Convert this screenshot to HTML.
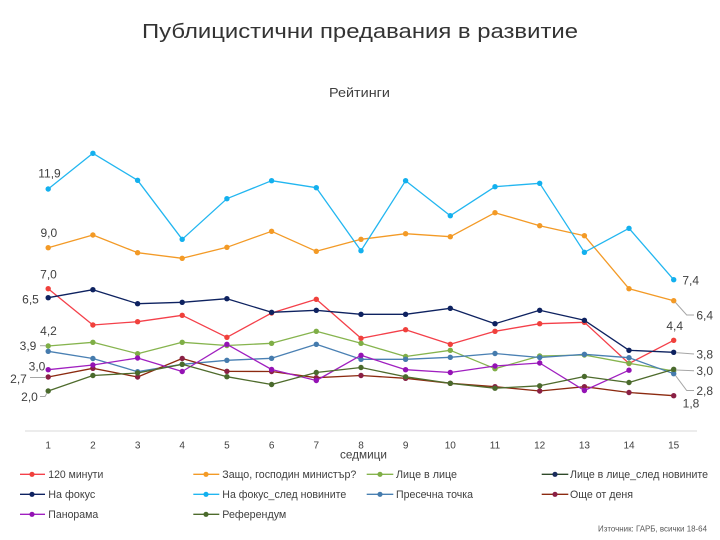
<!DOCTYPE html>
<html><head><meta charset="utf-8"><style>
html,body{margin:0;padding:0;background:#fff;}
svg{display:block;}
text{font-family:"Liberation Sans",Arial,sans-serif;}
</style></head><body>
<svg width="720" height="540" viewBox="0 0 720 540" xmlns="http://www.w3.org/2000/svg">
<defs>
<marker id="mR" markerWidth="8" markerHeight="8" refX="4" refY="4" markerUnits="userSpaceOnUse"><circle cx="4" cy="4" r="2.7" fill="#f0413c"/></marker>
<marker id="mO" markerWidth="8" markerHeight="8" refX="4" refY="4" markerUnits="userSpaceOnUse"><circle cx="4" cy="4" r="2.7" fill="#f39a26"/></marker>
<marker id="mLG" markerWidth="8" markerHeight="8" refX="4" refY="4" markerUnits="userSpaceOnUse"><circle cx="4" cy="4" r="2.7" fill="#7fae46"/></marker>
<marker id="mN" markerWidth="8" markerHeight="8" refX="4" refY="4" markerUnits="userSpaceOnUse"><circle cx="4" cy="4" r="2.7" fill="#0e2260"/></marker>
<marker id="mC" markerWidth="8" markerHeight="8" refX="4" refY="4" markerUnits="userSpaceOnUse"><circle cx="4" cy="4" r="2.7" fill="#13b0ee"/></marker>
<marker id="mS" markerWidth="8" markerHeight="8" refX="4" refY="4" markerUnits="userSpaceOnUse"><circle cx="4" cy="4" r="2.7" fill="#457bad"/></marker>
<marker id="mB" markerWidth="8" markerHeight="8" refX="4" refY="4" markerUnits="userSpaceOnUse"><circle cx="4" cy="4" r="2.7" fill="#8a2045"/></marker>
<marker id="mP" markerWidth="8" markerHeight="8" refX="4" refY="4" markerUnits="userSpaceOnUse"><circle cx="4" cy="4" r="2.7" fill="#9412b4"/></marker>
<marker id="mDG" markerWidth="8" markerHeight="8" refX="4" refY="4" markerUnits="userSpaceOnUse"><circle cx="4" cy="4" r="2.7" fill="#4a6a2c"/></marker>
</defs>

<!-- Title -->
<text x="360" y="38" font-size="20" fill="#333" text-anchor="middle" textLength="436" lengthAdjust="spacingAndGlyphs">Публицистични предавания в развитие</text>
<text x="359.5" y="97" font-size="13" fill="#404040" text-anchor="middle" textLength="61" lengthAdjust="spacingAndGlyphs">Рейтинги</text>

<!-- axis -->
<line x1="25" y1="431" x2="697" y2="431" stroke="#d9d9d9" stroke-width="1"/>
<g font-size="10" fill="#404040" text-anchor="middle">
<text x="48.2" y="448.6">1</text>
<text x="92.9" y="448.6">2</text>
<text x="137.6" y="448.6">3</text>
<text x="182.2" y="448.6">4</text>
<text x="226.9" y="448.6">5</text>
<text x="271.6" y="448.6">6</text>
<text x="316.3" y="448.6">7</text>
<text x="361.0" y="448.6">8</text>
<text x="405.6" y="448.6">9</text>
<text x="450.3" y="448.6">10</text>
<text x="495.0" y="448.6">11</text>
<text x="539.7" y="448.6">12</text>
<text x="584.4" y="448.6">13</text>
<text x="629.0" y="448.6">14</text>
<text x="673.7" y="448.6">15</text>
</g>
<text x="363.5" y="458.5" font-size="12" fill="#404040" text-anchor="middle" textLength="47" lengthAdjust="spacingAndGlyphs">седмици</text>

<!-- series -->
<g fill="none" stroke-width="1.3" stroke-linejoin="round">
<polyline stroke="#f4404a" marker-start="url(#mR)" marker-mid="url(#mR)" marker-end="url(#mR)" points="48.2,288.7 92.9,325 137.6,321.7 182.2,315.3 226.9,337.3 271.6,313 316.3,299.3 361.0,338.3 405.6,329.7 450.3,344.3 495.0,331.3 539.7,323.7 584.4,322.3 629.0,363.5 673.7,340.3"/>
<polyline stroke="#f39a26" marker-start="url(#mO)" marker-mid="url(#mO)" marker-end="url(#mO)" points="48.2,247.7 92.9,235 137.6,252.7 182.2,258.3 226.9,247.3 271.6,231.3 316.3,251.3 361.0,239.3 405.6,233.7 450.3,236.7 495.0,212.7 539.7,225.7 584.4,235.7 629.0,288.7 673.7,300.7"/>
<polyline stroke="#86b44e" marker-start="url(#mLG)" marker-mid="url(#mLG)" marker-end="url(#mLG)" points="48.2,346 92.9,342.3 137.6,353.7 182.2,342.3 226.9,345.5 271.6,343.3 316.3,331.3 361.0,343.3 405.6,356.5 450.3,350.3 495.0,368.7 539.7,356 584.4,355 629.0,363.3 673.7,371"/>
<polyline stroke="#0e2260" marker-start="url(#mN)" marker-mid="url(#mN)" marker-end="url(#mN)" points="48.2,297.7 92.9,289.7 137.6,303.7 182.2,302.3 226.9,298.7 271.6,312.3 316.3,310.3 361.0,314.3 405.6,314.3 450.3,308.3 495.0,323.7 539.7,310.3 584.4,320.3 629.0,350.3 673.7,352.3"/>
<polyline stroke="#22b6f0" marker-start="url(#mC)" marker-mid="url(#mC)" marker-end="url(#mC)" points="48.2,189 92.9,153.3 137.6,180.3 182.2,239.3 226.9,198.7 271.6,180.7 316.3,187.7 361.0,250.7 405.6,180.7 450.3,215.7 495.0,186.7 539.7,183.3 584.4,252.3 629.0,228.3 673.7,279.7"/>
<polyline stroke="#4a80b3" marker-start="url(#mS)" marker-mid="url(#mS)" marker-end="url(#mS)" points="48.2,351.3 92.9,358.5 137.6,371.7 182.2,364.3 226.9,360.3 271.6,358.3 316.3,344.3 361.0,359.3 405.6,359.3 450.3,357.3 495.0,353.5 539.7,357.5 584.4,354.3 629.0,357.7 673.7,373.7"/>
<polyline stroke="#8c2a10" marker-start="url(#mB)" marker-mid="url(#mB)" marker-end="url(#mB)" points="48.2,377 92.9,368.3 137.6,377 182.2,358.5 226.9,371.3 271.6,371.5 316.3,377.7 361.0,375.5 405.6,378.3 450.3,383.3 495.0,386.7 539.7,391 584.4,386.7 629.0,392.5 673.7,395.7"/>
<polyline stroke="#a020c0" marker-start="url(#mP)" marker-mid="url(#mP)" marker-end="url(#mP)" points="48.2,369.7 92.9,365 137.6,358 182.2,371.5 226.9,344.3 271.6,369.5 316.3,380.5 361.0,355.3 405.6,369.7 450.3,372.5 495.0,366 539.7,363 584.4,390.5 629.0,370.2"/>
<polyline stroke="#4e6b2c" marker-start="url(#mDG)" marker-mid="url(#mDG)" marker-end="url(#mDG)" points="48.2,391 92.9,375.5 137.6,373 182.2,364.3 226.9,376.7 271.6,384.5 316.3,372.5 361.0,367.5 405.6,376.8 450.3,383.3 495.0,388.2 539.7,385.8 584.4,376.5 629.0,382.5 673.7,369.3"/>
</g>

<!-- leader lines -->
<g fill="none" stroke="#a6a6a6" stroke-width="1">
<polyline points="40,345.7 46,345.7"/>
<polyline points="30,377.5 46,377.5"/>
<polyline points="40,396.5 45,396.5 47,393"/>
<polyline points="675.5,302.5 686.7,315 694,315"/>
<polyline points="676,352.6 694,354"/>
<polyline points="676,370 694,370.7"/>
<polyline points="675.5,375.5 686.7,390.5 694,390.5"/>
</g>

<!-- data labels -->
<g font-size="12" fill="#404040" text-anchor="middle">
<text x="49.5" y="177.6">11,9</text>
<text x="48.8" y="237">9,0</text>
<text x="48.5" y="278.3">7,0</text>
<text x="30.5" y="303.3">6,5</text>
<text x="48.5" y="335">4,2</text>
<text x="28" y="350">3,9</text>
<text x="37" y="370.3">3,0</text>
<text x="18.5" y="382.8">2,7</text>
<text x="29.5" y="401">2,0</text>
<text x="690.7" y="284.3">7,4</text>
<text x="704.7" y="319.3">6,4</text>
<text x="674.7" y="330">4,4</text>
<text x="704.7" y="358.3">3,8</text>
<text x="704.7" y="375">3,0</text>
<text x="704.7" y="395">2,8</text>
<text x="691" y="407.6">1,8</text>
</g>

<!-- legend -->
<g stroke-width="1.3">
<line x1="20" y1="474.3" x2="45" y2="474.3" stroke="#f4404a"/><circle cx="32" cy="474.3" r="2.6" fill="#f0413c"/>
<line x1="193.3" y1="474.3" x2="219.3" y2="474.3" stroke="#f39a26"/><circle cx="206" cy="474.3" r="2.6" fill="#f39a26"/>
<line x1="366.7" y1="474.3" x2="393.3" y2="474.3" stroke="#86b44e"/><circle cx="380" cy="474.3" r="2.6" fill="#7fae46"/>
<line x1="541.7" y1="474.3" x2="568.3" y2="474.3" stroke="#2f4a2a"/><circle cx="555" cy="474.3" r="2.6" fill="#1a2c5c"/>
<line x1="20" y1="494.3" x2="45" y2="494.3" stroke="#0e2260"/><circle cx="32" cy="494.3" r="2.6" fill="#0e2260"/>
<line x1="193.3" y1="494.3" x2="219.3" y2="494.3" stroke="#22b6f0"/><circle cx="206" cy="494.3" r="2.6" fill="#13b0ee"/>
<line x1="366.7" y1="494.3" x2="393.3" y2="494.3" stroke="#4a80b3"/><circle cx="380" cy="494.3" r="2.6" fill="#457bad"/>
<line x1="541.7" y1="494.3" x2="568.3" y2="494.3" stroke="#8c2a10"/><circle cx="555" cy="494.3" r="2.6" fill="#8a2045"/>
<line x1="20" y1="514.3" x2="45" y2="514.3" stroke="#a020c0"/><circle cx="32" cy="514.3" r="2.6" fill="#9412b4"/>
<line x1="193.3" y1="514.3" x2="219.3" y2="514.3" stroke="#4e6b2c"/><circle cx="206" cy="514.3" r="2.6" fill="#4a6a2c"/>
</g>
<g font-size="11" fill="#404040">
<text x="48.3" y="478.2" textLength="55" lengthAdjust="spacingAndGlyphs">120 минути</text>
<text x="222.3" y="478.2" textLength="134" lengthAdjust="spacingAndGlyphs">Защо, господин министър?</text>
<text x="396" y="478.2" textLength="61" lengthAdjust="spacingAndGlyphs">Лице в лице</text>
<text x="570" y="478.2" textLength="138" lengthAdjust="spacingAndGlyphs">Лице в лице_след новините</text>
<text x="48.3" y="498.2" textLength="47" lengthAdjust="spacingAndGlyphs">На фокус</text>
<text x="222.3" y="498.2" textLength="124" lengthAdjust="spacingAndGlyphs">На фокус_след новините</text>
<text x="396" y="498.2" textLength="77" lengthAdjust="spacingAndGlyphs">Пресечна точка</text>
<text x="570" y="498.2" textLength="63" lengthAdjust="spacingAndGlyphs">Още от деня</text>
<text x="48.3" y="518.2" textLength="50" lengthAdjust="spacingAndGlyphs">Панорама</text>
<text x="222.3" y="518.2" textLength="64" lengthAdjust="spacingAndGlyphs">Референдум</text>
</g>

<text x="598" y="531.5" font-size="8" fill="#595959" textLength="109" lengthAdjust="spacingAndGlyphs">Източник: ГАРБ, всички 18-64</text>
</svg>
</body></html>
